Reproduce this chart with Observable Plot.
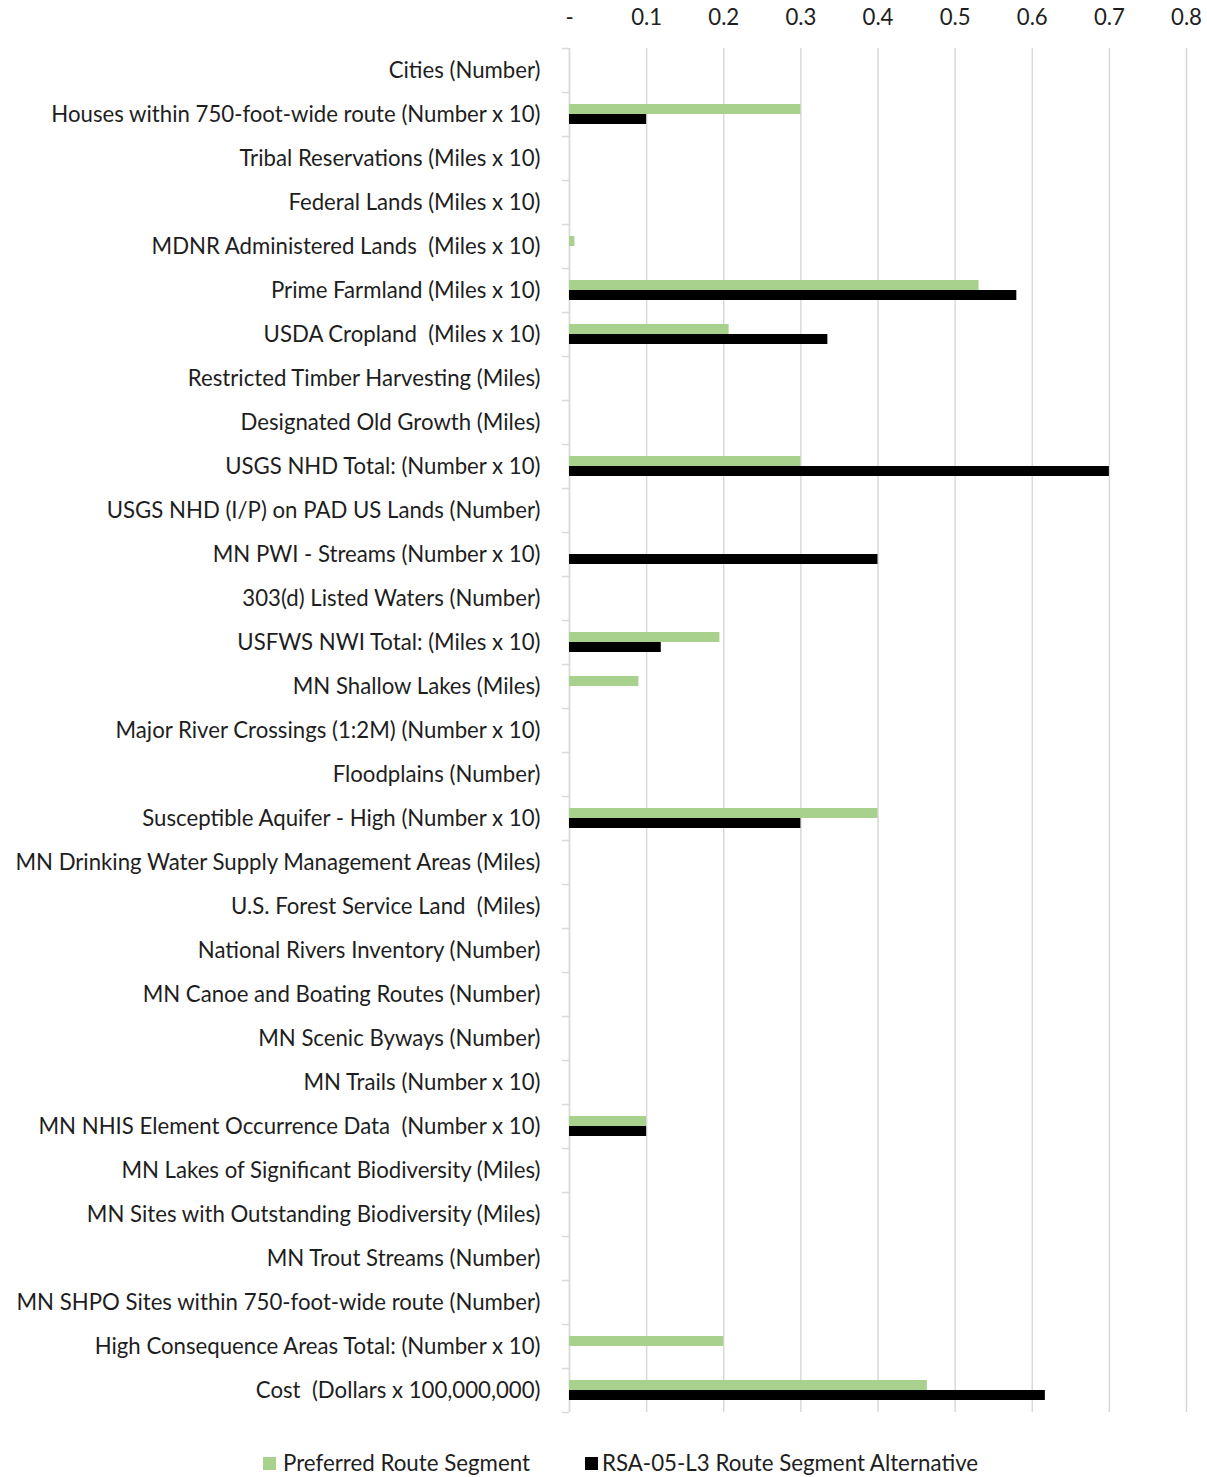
<!DOCTYPE html>
<html>
<head>
<meta charset="utf-8">
<script src="https://cdn.jsdelivr.net/npm/d3@7"></script>
<script src="https://cdn.jsdelivr.net/npm/@observablehq/plot@0.6"></script>
<style>
  html, body { margin: 0; padding: 0; background: #fff; }
  #wrap { position: relative; width: 1207px; height: 1477px; font-family: Lato, "Open Sans", sans-serif; color: #1e1e1e; }
  #legend { position: absolute; top: 1449px; left: 0; width: 1207px; height: 28px; font-size: 22.3px; }
  .sw { position: absolute; top: 8px; width: 13px; height: 13px; }
  .lt { position: absolute; top: 0px; line-height: 28px; white-space: nowrap; }
</style>
</head>
<body>
<div id="wrap">
  <div id="chart"></div>
  <div id="legend"></div>
</div>
<script>
const categories = [
  "Cities (Number)",
  "Houses within 750-foot-wide route (Number x 10)",
  "Tribal Reservations (Miles x 10)",
  "Federal Lands (Miles x 10)",
  "MDNR Administered Lands \u00a0(Miles x 10)",
  "Prime Farmland (Miles x 10)",
  "USDA Cropland \u00a0(Miles x 10)",
  "Restricted Timber Harvesting (Miles)",
  "Designated Old Growth (Miles)",
  "USGS NHD Total: (Number x 10)",
  "USGS NHD (I/P) on PAD US Lands (Number)",
  "MN PWI - Streams (Number x 10)",
  "303(d) Listed Waters (Number)",
  "USFWS NWI Total: (Miles x 10)",
  "MN Shallow Lakes (Miles)",
  "Major River Crossings (1:2M) (Number x 10)",
  "Floodplains (Number)",
  "Susceptible Aquifer - High (Number x 10)",
  "MN Drinking Water Supply Management Areas (Miles)",
  "U.S. Forest Service Land \u00a0(Miles)",
  "National Rivers Inventory (Number)",
  "MN Canoe and Boating Routes (Number)",
  "MN Scenic Byways (Number)",
  "MN Trails (Number x 10)",
  "MN NHIS Element Occurrence Data \u00a0(Number x 10)",
  "MN Lakes of Significant Biodiversity (Miles)",
  "MN Sites with Outstanding Biodiversity (Miles)",
  "MN Trout Streams (Number)",
  "MN SHPO Sites within 750-foot-wide route (Number)",
  "High Consequence Areas Total: (Number x 10)",
  "Cost \u00a0(Dollars x 100,000,000)"
];

const preferred = [0, 0.3, 0, 0, 0.007, 0.531, 0.207, 0, 0, 0.3, 0, 0, 0, 0.195, 0.09, 0, 0, 0.4, 0, 0, 0, 0, 0, 0, 0.1, 0, 0, 0, 0, 0.2, 0.464];
const alternative = [0, 0.1, 0, 0, 0, 0.58, 0.335, 0, 0, 0.7, 0, 0.4, 0, 0.119, 0, 0, 0, 0.3, 0, 0, 0, 0, 0, 0, 0.1, 0, 0, 0, 0, 0, 0.617];

const seriesNames = ["Preferred Route Segment", "RSA-05-L3 Route Segment Alternative"];
const seriesColors = ["#a9d18e", "#000000"];
const xTicks = [0, 0.1, 0.2, 0.3, 0.4, 0.5, 0.6, 0.7, 0.8];

const prefData = categories.map((c, i) => ({cat: c, value: preferred[i]}));
const altData = categories.map((c, i) => ({cat: c, value: alternative[i]}));

const grid = "#d9d9d9";

const chart = Plot.plot({
  width: 1207,
  height: 1440,
  marginLeft: 569,
  marginRight: 21,
  marginTop: 48,
  marginBottom: 28,
  style: {fontFamily: "Lato, 'Open Sans', sans-serif", fontSize: "22.2px", color: "#1e1e1e", background: "#fff"},
  x: {domain: [0, 0.8], label: null},
  y: {domain: categories, padding: 0, label: null},
  marks: [
    Plot.gridX({ticks: xTicks, stroke: grid, strokeOpacity: 1, strokeWidth: 1.5}),
    Plot.ruleX([0], {stroke: grid, strokeWidth: 1.5}),
    Plot.axisY({tickSize: 7, tickFormat: () => "", dy: -22, stroke: grid, strokeOpacity: 1, strokeWidth: 1.5, label: null}),
    Plot.axisY({ticks: [categories[categories.length - 1]], tickSize: 7, tickFormat: () => "", dy: 22, stroke: grid, strokeOpacity: 1, strokeWidth: 1.5, label: null}),
    Plot.axisY({tickSize: 0, tickPadding: 29, label: null}),
    Plot.axisX({anchor: "top", ticks: xTicks, tickSize: 0, tickPadding: 24, label: null,
      tickFormat: d => d === 0 ? "-" : d.toFixed(1)}),
    Plot.barX(prefData, {x: "value", y: "cat", fill: seriesColors[0], insetTop: 12, insetBottom: 22}),
    Plot.barX(altData, {x: "value", y: "cat", fill: seriesColors[1], insetTop: 22, insetBottom: 12})
  ]
});
document.getElementById("chart").appendChild(chart);

const legend = document.getElementById("legend");
const legendPos = [[263, 283], [585, 602]];
seriesNames.forEach((name, i) => {
  const sw = document.createElement("div");
  sw.className = "sw";
  sw.style.left = legendPos[i][0] + "px";
  sw.style.background = seriesColors[i];
  legend.appendChild(sw);
  const t = document.createElement("div");
  t.className = "lt";
  t.style.left = legendPos[i][1] + "px";
  t.textContent = name;
  legend.appendChild(t);
});
</script>
</body>
</html>
